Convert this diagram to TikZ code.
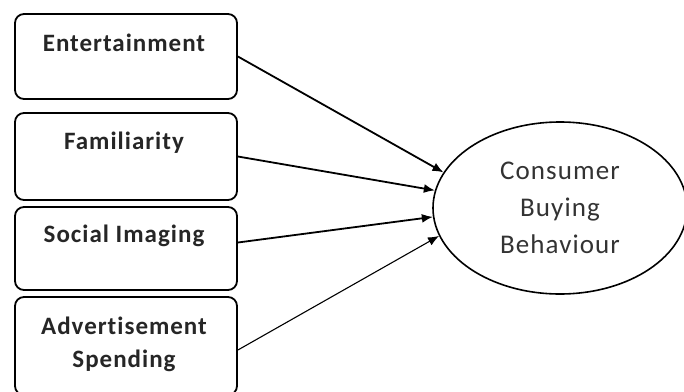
\documentclass[tikz,border=0pt]{standalone}
\usepackage{fontspec}
\setmainfont{Carlito}
\newfontfamily\widefont[LetterSpace=4,Ligatures=NoCommon]{Carlito}
\usetikzlibrary{shapes.geometric,arrows.meta}
\tikzset{
  factorbox/.style={draw, line width=1.8pt, rounded corners=9pt, minimum width=222pt, inner sep=0pt},
  factortext/.style={font=\widefont\fontsize{25}{33}\selectfont\bfseries, text=black!85, align=center},
  outcome/.style={draw, ellipse, line width=1.6pt, minimum width=254pt, minimum height=172pt, inner sep=0pt,
    font=\widefont\fontsize{27}{37}\selectfont, text=black!80, align=center},
  link/.style={-{Latex[length=11pt,width=9pt]}, line width=1.8pt}
}
\begin{document}
\begin{tikzpicture}[x=1pt,y=-1pt]
                \useasboundingbox (0,0) rectangle (684,391);
                \node[factorbox, minimum height=85pt] (ent) at (126,56.5) {};
                \node[factorbox, minimum height=87pt] (fam) at (126,156.5) {};
                \node[factorbox, minimum height=83pt] (soc) at (126,248.5) {};
                \node[factorbox, minimum height=98pt] (adv) at (126,346) {};

                \node[factortext] (entlabel) at (124,43) {Entertainment};
                \node[factortext] (famlabel) at (124,143) {Familiarity};
                \node[factortext] (soclabel) at (124,236) {Social Imaging};
                \node[factortext] (advlabel) at (124,344) {Advertisement\\Spending};

                \node[outcome] (cbb) at (560,208) {Consumer\\Buying\\Behaviour};

                \draw[link] (ent.east) -- (cbb.163);
                \draw[link] (fam.east) -- (cbb.172);
                \draw[link] ([yshift=6pt]soc.east) -- (cbb.184);
                \draw[link, line width=1.1pt] ([yshift=-4pt]adv.east) -- (cbb.193);
            \end{tikzpicture}
\end{document}
